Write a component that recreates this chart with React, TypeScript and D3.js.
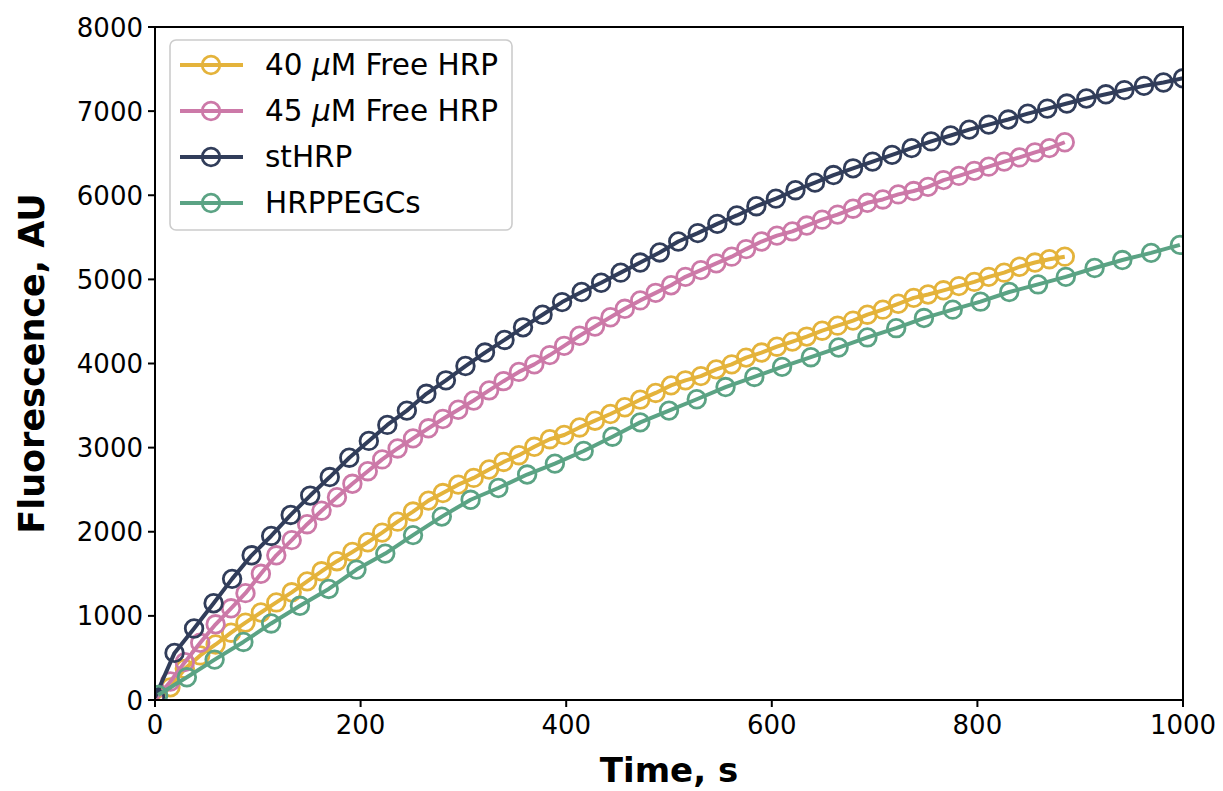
import React from 'react';
import * as d3 from 'd3';

// time axis (s) for the two free HRP runs, ~14.75 s sampling
const freeTime = [
  0, 15, 29, 44, 59, 74, 88, 103, 118, 133, 148, 162, 177, 192, 207, 221, 236, 251, 266, 280,
  295, 310, 325, 339, 354, 369, 384, 398, 413, 428, 443, 457, 472, 487, 502, 516, 531, 546, 561, 575,
  590, 605, 620, 634, 649, 664, 679, 693, 708, 723, 738, 752, 767, 782, 797, 811, 826, 841, 856, 870,
  885,
];
const free40 = [
  0, 150, 370, 530, 660, 800, 920, 1040, 1160, 1280, 1410, 1530, 1650, 1760, 1875, 1990, 2120, 2240, 2370, 2460,
  2560, 2640, 2740, 2830, 2910, 3010, 3100, 3150, 3240, 3320, 3400, 3480, 3570, 3650, 3740, 3800, 3850, 3930, 3990, 4070,
  4130, 4200, 4260, 4320, 4390, 4450, 4510, 4580, 4640, 4710, 4780, 4820, 4870, 4920, 4970, 5030, 5080, 5150, 5200, 5240,
  5270,
];
const free45 = [
  0, 220, 450, 680, 900, 1090, 1270, 1500, 1720, 1900, 2090, 2250, 2410, 2570, 2720, 2860, 2990, 3110, 3230, 3340,
  3450, 3560, 3680, 3790, 3900, 3990, 4100, 4210, 4330, 4440, 4550, 4650, 4750, 4840, 4930, 5030, 5110, 5190, 5270, 5360,
  5450, 5520, 5570, 5640, 5710, 5770, 5840, 5910, 5950, 6010, 6050, 6100, 6180, 6230, 6290, 6340, 6400, 6450, 6510, 6560,
  6630,
];

const stTime = [
  0, 19, 38, 57, 75, 94, 113, 132, 151, 170, 189, 208, 226, 245, 264, 283, 302, 321, 340, 358,
  377, 396, 415, 434, 453, 472, 491, 509, 528, 547, 566, 585, 604, 623, 642, 660, 679, 698, 717, 736,
  755, 774, 792, 811, 830, 849, 868, 887, 906, 925, 943, 962, 981, 1000,
];
const stValues = [
  30, 560, 850, 1150, 1440, 1720, 1950, 2200, 2430, 2650, 2880, 3080, 3270, 3440, 3640, 3800, 3970, 4130, 4280, 4430,
  4580, 4730, 4850, 4960, 5080, 5200, 5320, 5450, 5550, 5660, 5760, 5870, 5960, 6060, 6150, 6240, 6320, 6400, 6480, 6560,
  6640, 6710, 6780, 6840, 6900, 6970, 7030, 7090, 7150, 7200, 7250, 7300, 7340, 7390,
];

const pegTime = [
  3, 31, 58, 86, 113, 141, 169, 196, 224, 251, 279, 307, 334, 362, 389, 417, 445, 472, 500, 527,
  555, 583, 610, 638, 665, 693, 721, 748, 776, 803, 831, 859, 886, 914, 941, 969, 997,
];
const pegValues = [
  60, 270, 480, 690, 910, 1120, 1320, 1550, 1740, 1960, 2180, 2380, 2520, 2680, 2810, 2960, 3130, 3300, 3440, 3575,
  3720, 3840, 3960, 4075, 4190, 4310, 4420, 4540, 4640, 4735, 4850, 4940, 5030, 5135, 5230, 5315, 5410,
];

const seriesNames = ['40 µM Free HRP', '45 µM Free HRP', 'stHRP', 'HRPPEGCs'];
const seriesColors = ['#e4b33b', '#cc79a8', '#313d5a', '#5ba384'];

const xTicks = [0, 200, 400, 600, 800, 1000];
const yTicks = [0, 1000, 2000, 3000, 4000, 5000, 6000, 7000, 8000];

const width = 1223;
const height = 791;
const left = 155;
const right = 1183;
const top = 27;
const bottom = 700;

const markerR = 8.8;
const markerW = 2.8;
const lineW = 4;

export default function App() {
  const x = d3.scaleLinear().domain([0, 1000]).range([left, right]);
  const y = d3.scaleLinear().domain([0, 8000]).range([bottom, top]);

  const series = [
    { t: freeTime, v: free40 },
    { t: freeTime, v: free45 },
    { t: stTime, v: stValues },
    { t: pegTime, v: pegValues },
  ];

  const line = d3
    .line<[number, number]>()
    .x((d) => x(d[0]))
    .y((d) => y(d[1]));

  const font = 'DejaVu Sans';

  const legendLabel = (name: string) => {
    if (name.includes('µ')) {
      const [a, b] = name.split('µ');
      return (
        <>
          {a}
          <tspan fontStyle='italic'>μ</tspan>
          {b}
        </>
      );
    }
    return name;
  };

  return (
    <svg
      width={width}
      height={height}
      style={{ position: 'absolute', left: 0, top: 0, background: '#fff' }}
      fontFamily={font}
    >
      <defs>
        <clipPath id='plot'>
          <rect x={left} y={top} width={right - left} height={bottom - top} />
        </clipPath>
      </defs>

      <g clipPath='url(#plot)'>
        {series.map((s, i) => {
          const pts = s.t.map((t, j) => [t, s.v[j]] as [number, number]);
          return (
            <g key={i}>
              <path d={line(pts) || ''} fill='none' stroke={seriesColors[i]} strokeWidth={lineW} strokeLinejoin='round' />
              {pts.map((p, j) => (
                <circle key={j} cx={x(p[0])} cy={y(p[1])} r={markerR} fill='none' stroke={seriesColors[i]} strokeWidth={markerW} />
              ))}
            </g>
          );
        })}
      </g>

      {/* spines */}
      <rect x={left} y={top} width={right - left} height={bottom - top} fill='none' stroke='#000' strokeWidth={2} />

      {xTicks.map((t) => (
        <g key={'x' + t}>
          <line x1={x(t)} x2={x(t)} y1={bottom} y2={bottom + 7} stroke='#000' strokeWidth={2} />
          <text x={x(t)} y={bottom + 34} fontSize={26} textAnchor='middle'>
            {t}
          </text>
        </g>
      ))}
      {yTicks.map((t) => (
        <g key={'y' + t}>
          <line x1={left - 7} x2={left} y1={y(t)} y2={y(t)} stroke='#000' strokeWidth={2} />
          <text x={left - 12} y={y(t) + 9.5} fontSize={26} textAnchor='end'>
            {t}
          </text>
        </g>
      ))}

      <text x={(left + right) / 2} y={782} fontSize={34} fontWeight='bold' textAnchor='middle'>
        Time, s
      </text>
      <text
        transform={`translate(44, ${(top + bottom) / 2}) rotate(-90)`}
        fontSize={35}
        fontWeight='bold'
        textAnchor='middle'
      >
        Fluorescence, AU
      </text>

      {/* legend */}
      <rect x={170} y={40} width={342} height={190} rx={6} fill='#fff' fillOpacity={0.8} stroke='#cccccc' strokeWidth={1.6} />
      {seriesNames.map((name, i) => {
        const cy = 65 + i * 46;
        return (
          <g key={name}>
            <line x1={180} x2={243} y1={cy} y2={cy} stroke={seriesColors[i]} strokeWidth={lineW} />
            <circle cx={211} cy={cy} r={markerR} fill='none' stroke={seriesColors[i]} strokeWidth={markerW} />
            <text x={265} y={cy + 10} fontSize={29.5}>
              {legendLabel(name)}
            </text>
          </g>
        );
      })}
    </svg>
  );
}
